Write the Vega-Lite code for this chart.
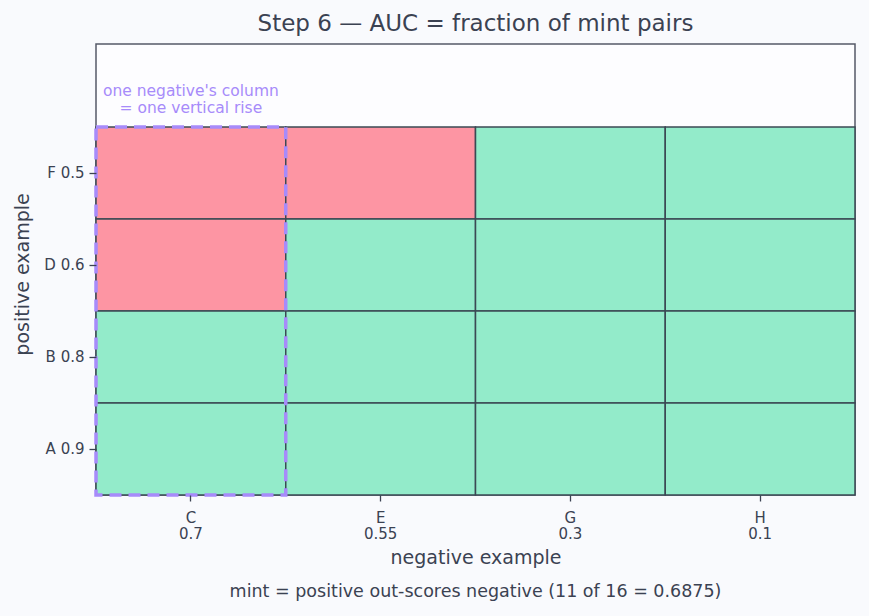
{
  "$schema": "https://vega.github.io/schema/vega-lite/v6.json",
  "autosize": "none",
  "width": 759,
  "height": 451,
  "padding": {"left": 96, "top": 44, "right": 14, "bottom": 121},
  "background": "#f9fafd",
  "config": {
    "font": "DejaVu Sans",
    "view": {"fill": "#fdfdff", "stroke": "#555a68", "strokeWidth": 1.5}
  },
  "title": {
    "text": "Step 6 — AUC = fraction of mint pairs",
    "fontSize": 23,
    "fontWeight": "normal",
    "color": "#3b4252",
    "offset": 8
  },
  "datasets": {
    "cells": [
      {"neg": "C 0.7", "pos": "F 0.5", "outcome": "negative wins"},
      {"neg": "E 0.55", "pos": "F 0.5", "outcome": "negative wins"},
      {"neg": "G 0.3", "pos": "F 0.5", "outcome": "positive wins"},
      {"neg": "H 0.1", "pos": "F 0.5", "outcome": "positive wins"},
      {"neg": "C 0.7", "pos": "D 0.6", "outcome": "negative wins"},
      {"neg": "E 0.55", "pos": "D 0.6", "outcome": "positive wins"},
      {"neg": "G 0.3", "pos": "D 0.6", "outcome": "positive wins"},
      {"neg": "H 0.1", "pos": "D 0.6", "outcome": "positive wins"},
      {"neg": "C 0.7", "pos": "B 0.8", "outcome": "positive wins"},
      {"neg": "E 0.55", "pos": "B 0.8", "outcome": "positive wins"},
      {"neg": "G 0.3", "pos": "B 0.8", "outcome": "positive wins"},
      {"neg": "H 0.1", "pos": "B 0.8", "outcome": "positive wins"},
      {"neg": "C 0.7", "pos": "A 0.9", "outcome": "positive wins"},
      {"neg": "E 0.55", "pos": "A 0.9", "outcome": "positive wins"},
      {"neg": "G 0.3", "pos": "A 0.9", "outcome": "positive wins"},
      {"neg": "H 0.1", "pos": "A 0.9", "outcome": "positive wins"}
    ],
    "highlight": [{"neg": "C 0.7"}],
    "note": [{"neg": "C 0.7", "text": ["one negative's column", "= one vertical rise"]}],
    "caption": [{"text": "mint = positive out-scores negative (11 of 16 = 0.6875)"}]
  },
  "layer": [
    {
      "data": {"name": "cells"},
      "mark": {"type": "rect", "stroke": "#3b4954", "strokeWidth": 1.5},
      "encoding": {
        "x": {
          "field": "neg",
          "type": "nominal",
          "scale": {"domain": ["C 0.7", "E 0.55", "G 0.3", "H 0.1"], "paddingInner": 0, "paddingOuter": 0},
          "axis": {
            "title": "negative example",
            "titleFontSize": 19,
            "titleFontWeight": "normal",
            "titleColor": "#3b4252",
            "titlePadding": 7,
            "labelExpr": "split(datum.label, ' ')",
            "labelAngle": 0,
            "labelFontSize": 15,
            "labelLineHeight": 16.5,
            "labelColor": "#3b4252",
            "labelPadding": 9,
            "tickSize": 6,
            "tickWidth": 1.3,
            "tickColor": "#3b4252",
            "domain": false
          }
        },
        "y": {
          "field": "pos",
          "type": "nominal",
          "scale": {"domain": ["F 0.5", "D 0.6", "B 0.8", "A 0.9"], "range": [83, 451], "paddingInner": 0, "paddingOuter": 0},
          "axis": {
            "title": "positive example",
            "titleFontSize": 19,
            "titleFontWeight": "normal",
            "titleColor": "#3b4252",
            "titleX": -74,
            "titleY": 230,
            "titleBaseline": "middle",
            "titleAngle": -90,
            "labelFontSize": 15,
            "labelColor": "#3b4252",
            "labelPadding": 5,
            "tickSize": 7,
            "tickWidth": 1.3,
            "tickColor": "#3b4252",
            "domain": false
          }
        },
        "color": {
          "field": "outcome",
          "type": "nominal",
          "scale": {"domain": ["positive wins", "negative wins"], "range": ["#93ebca", "#fd95a3"]},
          "legend": null
        },
        "opacity": {"value": 1}
      }
    },
    {
      "data": {"name": "highlight"},
      "mark": {"type": "rect", "fill": null, "filled": false, "stroke": "#a78bfa", "strokeWidth": 3.5, "strokeDash": [12, 7]},
      "encoding": {
        "x": {"field": "neg", "type": "nominal"},
        "y": {"datum": "F 0.5", "type": "nominal", "bandPosition": 0},
        "y2": {"datum": "A 0.9", "bandPosition": 1}
      }
    },
    {
      "data": {"name": "note"},
      "mark": {"type": "text", "baseline": "middle", "align": "center", "dy": -36, "fontSize": 15.5, "lineHeight": 17, "color": "#a78bfa"},
      "encoding": {
        "x": {"field": "neg", "type": "nominal"},
        "y": {"datum": "F 0.5", "type": "nominal", "bandPosition": 0},
        "text": {"field": "text"}
      }
    },
    {
      "data": {"name": "caption"},
      "mark": {"type": "text", "baseline": "middle", "align": "center", "dy": 97, "fontSize": 17.5, "color": "#3b4252"},
      "encoding": {
        "y": {"datum": "A 0.9", "type": "nominal", "bandPosition": 1},
        "text": {"field": "text"}
      }
    }
  ]
}
